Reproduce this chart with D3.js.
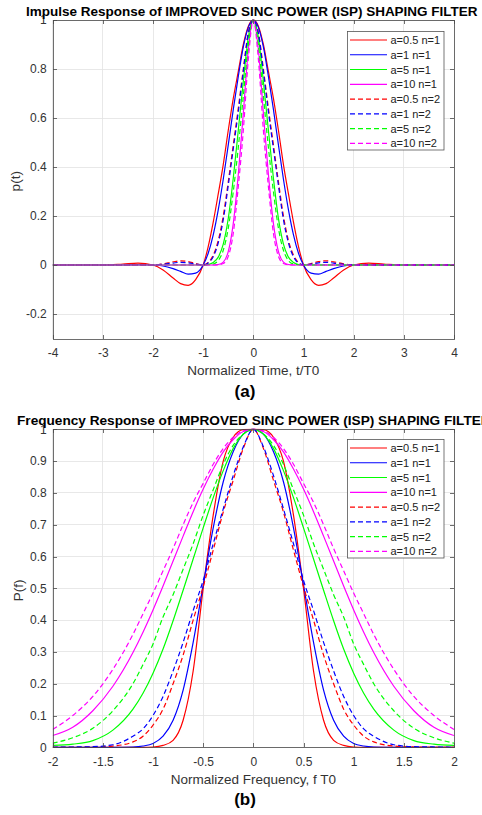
<!DOCTYPE html>
<html lang="en">
<head>
<meta charset="UTF-8">
<title>ISP shaping filter</title>
<style>
  body { margin: 0; background: #fff; }
  svg { display: block; }
  text { font-family: "Liberation Sans", Arial, Helvetica, sans-serif; }
  .axis path, .axis line { fill: none; stroke: #4a4a4a; stroke-width: 0.8; shape-rendering: crispEdges; }
  .axis text { font-size: 12px; fill: #333; }
  .grid line { stroke: #e2e2e2; stroke-width: 0.8; shape-rendering: crispEdges; }
</style>
</head>
<body>
<script src="https://d3js.org/d3.v7.min.js"></script>
<script>
var width = 482;
var height = 815;

// legend entries and line styles
var legendLabels = ['a=0.5 n=1', 'a=1 n=1', 'a=5 n=1', 'a=10 n=1',
                    'a=0.5 n=2', 'a=1 n=2', 'a=5 n=2', 'a=10 n=2'];
var lineColors = ['#ff0000', '#0000ff', '#00ff00', '#ff00ff',
                  '#ff0000', '#0000ff', '#00ff00', '#ff00ff'];
var lineDashed = [false, false, false, false, true, true, true, true];

// tick labels
var timeTicks = [-4, -3, -2, -1, 0, 1, 2, 3, 4];
var pulseTicks = [-0.2, 0, 0.2, 0.4, 0.6, 0.8, 1];
var freqTicks = [-2, -1.5, -1, -0.5, 0, 0.5, 1, 1.5, 2];
var specTicks = [0, 0.1, 0.2, 0.3, 0.4, 0.5, 0.6, 0.7, 0.8, 0.9, 1];

// (a) impulse response, sampled at timeAxis
var timeAxis = [-4, -3.5, -3, -2.6, -2.3, -2, -1.8, -1.6, -1.45, -1.3, -1.15, -1, -0.9, -0.8, -0.7, -0.6, -0.5, -0.4, -0.3, -0.2, -0.1,
                0, 0.1, 0.2, 0.3, 0.4, 0.5, 0.6, 0.7, 0.8, 0.9, 1, 1.15, 1.3, 1.45, 1.6, 1.8, 2, 2.3, 2.6, 3, 3.5, 4];
var pulseA05n1 = [0, 0, 0, 0.004, 0.008, 0, -0.02, -0.053, -0.076, -0.083, -0.06, 0, 0.075, 0.175, 0.29, 0.41, 0.55, 0.68, 0.79, 0.9, 0.975,
                  1, 0.975, 0.9, 0.79, 0.68, 0.55, 0.41, 0.29, 0.175, 0.075, 0, -0.06, -0.083, -0.076, -0.053, -0.02, 0, 0.008, 0.004, 0, 0, 0];
var pulseA1n1 = [0, 0, 0, 0, 0.001, 0, -0.004, -0.015, -0.026, -0.037, -0.033, 0, 0.048, 0.123, 0.225, 0.35, 0.49, 0.635, 0.77, 0.89, 0.97,
                 1, 0.97, 0.89, 0.77, 0.635, 0.49, 0.35, 0.225, 0.123, 0.048, 0, -0.033, -0.037, -0.026, -0.015, -0.004, 0, 0.001, 0, 0, 0, 0];
var pulseA5n1 = [0, 0, 0, 0, 0, 0, 0, 0, 0, 0, 0, 0, 0.002, 0.01, 0.032, 0.085, 0.19, 0.355, 0.55, 0.75, 0.93,
                 1, 0.93, 0.75, 0.55, 0.355, 0.19, 0.085, 0.032, 0.01, 0.002, 0, 0, 0, 0, 0, 0, 0, 0, 0, 0, 0, 0];
var pulseA10n1 = [0, 0, 0, 0, 0, 0, 0, 0, 0, 0, 0, 0, 0, 0, 0.002, 0.012, 0.055, 0.17, 0.37, 0.62, 0.88,
                  1, 0.88, 0.62, 0.37, 0.17, 0.055, 0.012, 0.002, 0, 0, 0, 0, 0, 0, 0, 0, 0, 0, 0, 0, 0, 0];
var pulseA05n2 = [0, 0, 0, 0, 0.001, 0, 0.005, 0.013, 0.017, 0.014, 0.006, 0, 0.01, 0.04, 0.1, 0.2, 0.34, 0.49, 0.64, 0.8, 0.95,
                  1, 0.95, 0.8, 0.64, 0.49, 0.34, 0.2, 0.1, 0.04, 0.01, 0, 0.006, 0.014, 0.017, 0.013, 0.005, 0, 0.001, 0, 0, 0, 0];
var pulseA1n2 = [0, 0, 0, 0, 0, 0, 0.003, 0.008, 0.011, 0.009, 0.004, 0, 0.008, 0.034, 0.09, 0.185, 0.325, 0.475, 0.625, 0.79, 0.945,
                 1, 0.945, 0.79, 0.625, 0.475, 0.325, 0.185, 0.09, 0.034, 0.008, 0, 0.004, 0.009, 0.011, 0.008, 0.003, 0, 0, 0, 0, 0, 0];
var pulseA5n2 = [0, 0, 0, 0, 0, 0, 0, 0, 0, 0, 0, 0, 0.001, 0.004, 0.018, 0.06, 0.15, 0.3, 0.48, 0.69, 0.9,
                 1, 0.9, 0.69, 0.48, 0.3, 0.15, 0.06, 0.018, 0.004, 0.001, 0, 0, 0, 0, 0, 0, 0, 0, 0, 0, 0, 0];
var pulseA10n2 = [0, 0, 0, 0, 0, 0, 0, 0, 0, 0, 0, 0, 0, 0, 0.001, 0.006, 0.035, 0.13, 0.32, 0.55, 0.84,
                  1, 0.84, 0.55, 0.32, 0.13, 0.035, 0.006, 0.001, 0, 0, 0, 0, 0, 0, 0, 0, 0, 0, 0, 0, 0, 0];

// (b) frequency response, sampled at freqAxis
var freqAxis = [-2, -1.8, -1.6, -1.4, -1.2, -1.1, -1, -0.9, -0.8, -0.7, -0.6, -0.5, -0.4, -0.3, -0.2, -0.1,
                0, 0.1, 0.2, 0.3, 0.4, 0.5, 0.6, 0.7, 0.8, 0.9, 1, 1.1, 1.2, 1.4, 1.6, 1.8, 2];
var specA05n1 = [0, 0, 0, 0, 0, 0, 0.001, 0.006, 0.022, 0.085, 0.24, 0.5, 0.73, 0.9, 0.975, 0.999,
                 1, 0.999, 0.975, 0.9, 0.73, 0.5, 0.24, 0.085, 0.022, 0.006, 0.001, 0, 0, 0, 0, 0, 0];
var specA1n1 = [0, 0, 0, 0, 0.001, 0.004, 0.012, 0.035, 0.085, 0.18, 0.33, 0.51, 0.69, 0.835, 0.93, 0.985,
                1, 0.985, 0.93, 0.835, 0.69, 0.51, 0.33, 0.18, 0.085, 0.035, 0.012, 0.004, 0.001, 0, 0, 0, 0];
var specA5n1 = [0.006, 0.01, 0.021, 0.054, 0.12, 0.17, 0.233, 0.309, 0.398, 0.494, 0.592, 0.69, 0.785, 0.87, 0.94, 0.985,
                1, 0.985, 0.94, 0.87, 0.785, 0.69, 0.592, 0.494, 0.398, 0.309, 0.233, 0.17, 0.12, 0.054, 0.021, 0.01, 0.006];
var specA10n1 = [0.037, 0.063, 0.115, 0.192, 0.298, 0.362, 0.432, 0.507, 0.586, 0.664, 0.741, 0.812, 0.875, 0.929, 0.968, 0.993,
                 1, 0.993, 0.968, 0.929, 0.875, 0.812, 0.741, 0.664, 0.586, 0.507, 0.432, 0.362, 0.298, 0.192, 0.115, 0.063, 0.037];
var specA05n2 = [0, 0, 0.001, 0.004, 0.017, 0.035, 0.07, 0.12, 0.2, 0.29, 0.4, 0.505, 0.62, 0.74, 0.84, 0.94,
                 1, 0.94, 0.84, 0.74, 0.62, 0.505, 0.4, 0.29, 0.2, 0.12, 0.07, 0.035, 0.017, 0.004, 0.001, 0, 0];
var specA1n2 = [0, 0.001, 0.002, 0.008, 0.035, 0.058, 0.1, 0.16, 0.24, 0.33, 0.43, 0.525, 0.64, 0.75, 0.855, 0.945,
                1, 0.945, 0.855, 0.75, 0.64, 0.525, 0.43, 0.33, 0.24, 0.16, 0.1, 0.058, 0.035, 0.008, 0.002, 0.001, 0];
var specA5n2 = [0.013, 0.03, 0.06, 0.115, 0.2, 0.26, 0.325, 0.41, 0.48, 0.56, 0.64, 0.73, 0.81, 0.89, 0.95, 0.985,
                1, 0.985, 0.95, 0.89, 0.81, 0.73, 0.64, 0.56, 0.48, 0.41, 0.325, 0.26, 0.2, 0.115, 0.06, 0.03, 0.013];
var specA10n2 = [0.056, 0.1, 0.16, 0.245, 0.355, 0.42, 0.485, 0.555, 0.625, 0.7, 0.77, 0.83, 0.89, 0.94, 0.975, 0.995,
                 1, 0.995, 0.975, 0.94, 0.89, 0.83, 0.77, 0.7, 0.625, 0.555, 0.485, 0.42, 0.355, 0.245, 0.16, 0.1, 0.056];

var svg = d3.select('body').append('svg')
    .attr('width', width).attr('height', height)
    .style('background', '#fff');

function fmt(d) { return String(d); }

function drawPanel(p) {
    var x = d3.scaleLinear().domain(p.xDomain).range([p.left, p.right]);
    var y = d3.scaleLinear().domain(p.yDomain).range([p.bottom, p.top]);
    var g = svg.append('g');

    // grid
    var grid = g.append('g').attr('class', 'grid');
    grid.selectAll('.gx').data(p.xTicks).enter().append('line')
        .attr('x1', function (d) { return x(d); }).attr('x2', function (d) { return x(d); })
        .attr('y1', p.top).attr('y2', p.bottom);
    grid.selectAll('.gy').data(p.yTicks).enter().append('line')
        .attr('y1', function (d) { return y(d); }).attr('y2', function (d) { return y(d); })
        .attr('x1', p.left).attr('x2', p.right);

    // curves
    var clipId = 'clip' + p.id;
    svg.append('clipPath').attr('id', clipId).append('rect')
        .attr('x', p.left).attr('y', p.top - 1)
        .attr('width', p.right - p.left).attr('height', p.bottom - p.top + 2);
    var line = d3.line()
        .x(function (d) { return x(d[0]); })
        .y(function (d) { return y(d[1]); })
        .curve(d3.curveMonotoneX);
    g.append('g').attr('clip-path', 'url(#' + clipId + ')')
        .selectAll('path').data(p.series).enter().append('path')
        .attr('d', function (s) { return line(d3.zip(p.xs, s)); })
        .attr('fill', 'none')
        .attr('stroke', function (s, i) { return lineColors[i]; })
        .attr('stroke-width', 1.2)
        .attr('stroke-dasharray', function (s, i) { return lineDashed[i] ? '5,3' : null; });

    // axes (ticks point inward, box on)
    g.append('g').attr('class', 'axis').attr('transform', 'translate(0,' + p.bottom + ')')
        .call(d3.axisBottom(x).tickValues(p.xTicks).tickFormat(fmt).tickSizeInner(-4).tickSizeOuter(0).tickPadding(10));
    g.append('g').attr('class', 'axis').attr('transform', 'translate(0,' + p.top + ')')
        .call(d3.axisTop(x).tickValues(p.xTicks).tickFormat('').tickSizeInner(-4).tickSizeOuter(0));
    g.append('g').attr('class', 'axis').attr('transform', 'translate(' + p.left + ',0)')
        .call(d3.axisLeft(y).tickValues(p.yTicks).tickFormat(fmt).tickSizeInner(-4).tickSizeOuter(0).tickPadding(6));
    g.append('g').attr('class', 'axis').attr('transform', 'translate(' + p.right + ',0)')
        .call(d3.axisRight(y).tickValues(p.yTicks).tickFormat('').tickSizeInner(-4).tickSizeOuter(0));
    g.selectAll('.axis').attr('font-family', null).attr('font-size', null);

    // axis labels
    g.append('text').attr('x', (p.left + p.right) / 2).attr('y', p.xLabelY)
        .attr('text-anchor', 'middle').attr('font-size', 13.5).attr('fill', '#333')
        .text(p.xLabel);
    g.append('text').attr('transform', 'translate(' + p.yLabelX + ',' + ((p.top + p.bottom) / 2 + 2) + ') rotate(-90)')
        .attr('text-anchor', 'middle').attr('font-size', 13.5).attr('fill', '#333')
        .text(p.yLabel);
    g.append('text').attr('x', 245).attr('y', p.tagY)
        .attr('text-anchor', 'middle').attr('font-size', 17).attr('font-weight', 'bold').attr('fill', '#000')
        .text(p.tag);

    // title
    var t = g.append('text').attr('x', p.titleX).attr('y', p.titleY)
        .attr('font-size', 13.5).attr('font-weight', 'bold').attr('fill', '#000')
        .text(p.title);
    var w = t.node().getComputedTextLength();
    t.attr('font-size', 13.5 * p.titleWidth / w);

    // legend
    var lg = g.append('g');
    lg.append('rect').attr('x', 347.5).attr('y', p.legendTop)
        .attr('width', 96.5).attr('height', 118.5)
        .attr('fill', '#fff').attr('stroke', '#555').attr('stroke-width', 0.8);
    var rows = lg.selectAll('.row').data(legendLabels).enter().append('g')
        .attr('transform', function (d, i) { return 'translate(0,' + (p.legendTop + 8.5 + i * 14.76) + ')'; });
    rows.append('line').attr('x1', 350).attr('x2', 387).attr('y1', 0).attr('y2', 0)
        .attr('stroke', function (d, i) { return lineColors[i]; })
        .attr('stroke-width', 1.2)
        .attr('stroke-dasharray', function (d, i) { return lineDashed[i] ? '5,3' : null; });
    rows.append('text').attr('x', 390.5).attr('y', 4)
        .attr('font-size', 11).attr('fill', '#222')
        .text(function (d) { return d; });
}

drawPanel({
    id: 'a',
    left: 52.7, right: 454, top: 20, bottom: 338.5,
    xDomain: [-4, 4], yDomain: [-0.3, 1],
    xTicks: timeTicks, yTicks: pulseTicks,
    xs: timeAxis,
    series: [pulseA05n1, pulseA1n1, pulseA5n1, pulseA10n1, pulseA05n2, pulseA1n2, pulseA5n2, pulseA10n2],
    xLabel: 'Normalized Time, t/T0', xLabelY: 375,
    yLabel: 'p(t)', yLabelX: 20,
    tag: '(a)', tagY: 397,
    title: 'Impulse Response of IMPROVED SINC POWER (ISP) SHAPING FILTER',
    titleX: 26, titleY: 15.7, titleWidth: 452,
    legendTop: 31.5
});

drawPanel({
    id: 'b',
    left: 52.7, right: 454, top: 429.3, bottom: 747.3,
    xDomain: [-2, 2], yDomain: [0, 1],
    xTicks: freqTicks, yTicks: specTicks,
    xs: freqAxis,
    series: [specA05n1, specA1n1, specA5n1, specA10n1, specA05n2, specA1n2, specA5n2, specA10n2],
    xLabel: 'Normalized Frequency, f T0', xLabelY: 784,
    yLabel: 'P(f)', yLabelX: 22.5,
    tag: '(b)', tagY: 804.5,
    title: 'Frequency Response of IMPROVED SINC POWER (ISP) SHAPING FILTER',
    titleX: 17, titleY: 425, titleWidth: 474,
    legendTop: 439.5
});
</script>
</body>
</html>
